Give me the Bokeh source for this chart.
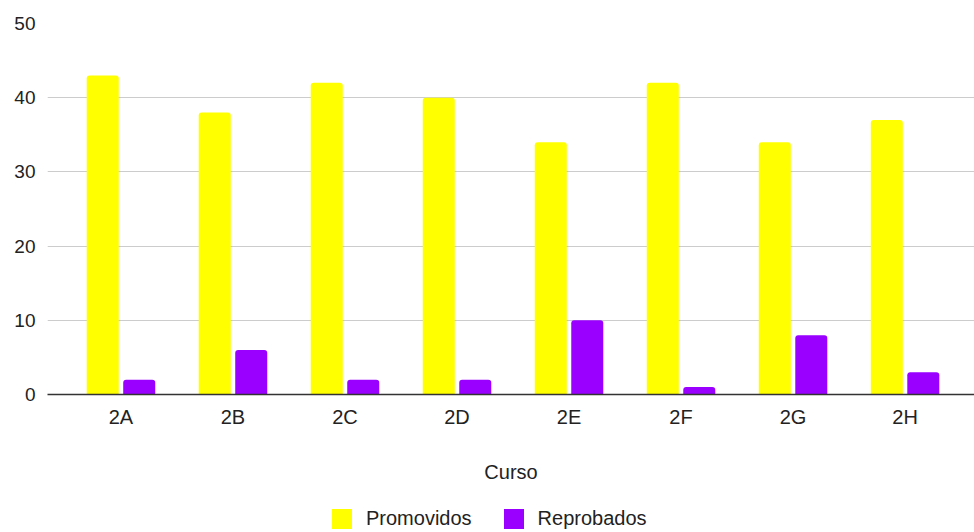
from bokeh.plotting import figure
from bokeh.layouts import column
from bokeh.models import ColumnDataSource, Range1d, FixedTicker, Legend, LegendItem
from bokeh.embed import file_html
from bokeh.resources import INLINE

cursos = ["2A", "2B", "2C", "2D", "2E", "2F", "2G", "2H"]
promovidos = [43, 38, 42, 40, 34, 42, 34, 37]
reprobados = [2, 6, 2, 2, 10, 1, 8, 3]
y_ticks = [0, 10, 20, 30, 40, 50]
series = ["Promovidos", "Reprobados"]
colors = ["#ffff00", "#9900ff"]

FONT = "Liberation Sans"
idx = list(range(len(cursos)))
src = ColumnDataSource(dict(
    xp=[i - 0.163 for i in idx],
    xr=[i + 0.163 for i in idx],
    prom=promovidos,
    repr=reprobados,
))

p = figure(width=974, height=508, output_backend="svg", toolbar_location=None,
           x_range=Range1d(-0.656, 7.62), y_range=Range1d(0, 50),
           min_border_top=23, min_border_left=47, min_border_right=0,
           min_border_bottom=114)
p.outline_line_color = None

r1 = p.vbar(x="xp", top="prom", width=0.286, source=src, fill_color=colors[0],
            line_color=None, border_radius=(3, 3, 0, 0))
r2 = p.vbar(x="xr", top="repr", width=0.286, source=src, fill_color=colors[1],
            line_color=None, border_radius=(3, 3, 0, 0))

p.xgrid.visible = False
p.ygrid.grid_line_color = "#cccccc"
p.ygrid.grid_line_width = 1

p.yaxis.ticker = FixedTicker(ticks=y_ticks)
p.yaxis.axis_line_color = None
p.yaxis.major_tick_line_color = None
p.yaxis.minor_tick_line_color = None
p.yaxis.major_tick_out = 0
p.yaxis.major_label_standoff = 12
p.yaxis.major_label_text_font = FONT
p.yaxis.major_label_text_font_size = "19px"
p.yaxis.major_label_text_color = "#222222"

p.xaxis.ticker = FixedTicker(ticks=idx)
p.xaxis.major_label_overrides = {i: c for i, c in enumerate(cursos)}
p.xaxis.axis_line_color = "#333333"
p.xaxis.axis_line_width = 1.3
p.xaxis.major_tick_line_color = None
p.xaxis.minor_tick_line_color = None
p.xaxis.major_tick_out = 0
p.xaxis.major_label_standoff = 11
p.xaxis.major_label_text_font = FONT
p.xaxis.major_label_text_font_size = "20px"
p.xaxis.major_label_text_color = "#222222"
p.xaxis.axis_label = "Curso"
p.xaxis.axis_label_standoff = 30
p.xaxis.axis_label_text_font = FONT
p.xaxis.axis_label_text_font_size = "20px"
p.xaxis.axis_label_text_font_style = "normal"
p.xaxis.axis_label_text_color = "#222222"

# legend strip: same series (hidden), legend shown in its frame
q = figure(width=974, height=24, output_backend="svg", toolbar_location=None,
           x_range=p.x_range, y_range=Range1d(-1000, -999), min_border=0,
           x_axis_location=None, y_axis_location=None)
q.outline_line_color = None
q.grid.visible = False
l1 = q.vbar(x="xp", top="prom", width=0.286, source=src, fill_color=colors[0],
            line_color=None)
l2 = q.vbar(x="xr", top="repr", width=0.286, source=src, fill_color=colors[1],
            line_color=None)
l1.visible = False
l2.visible = False
legend = Legend(items=[LegendItem(label=series[0], renderers=[l1]),
                       LegendItem(label=series[1], renderers=[l2])],
                orientation="horizontal", location=(282, 1),
                glyph_width=25, glyph_height=25, label_standoff=12, spacing=29,
                padding=0, margin=0, border_line_color=None,
                inactive_fill_alpha=0,
                label_text_font=FONT, label_text_font_size="20px",
                label_text_color="#222222", background_fill_alpha=0)
q.add_layout(legend, "center")

layout = column(p, q, spacing=0)
open("out.html", "w").write(file_html(layout, INLINE))
